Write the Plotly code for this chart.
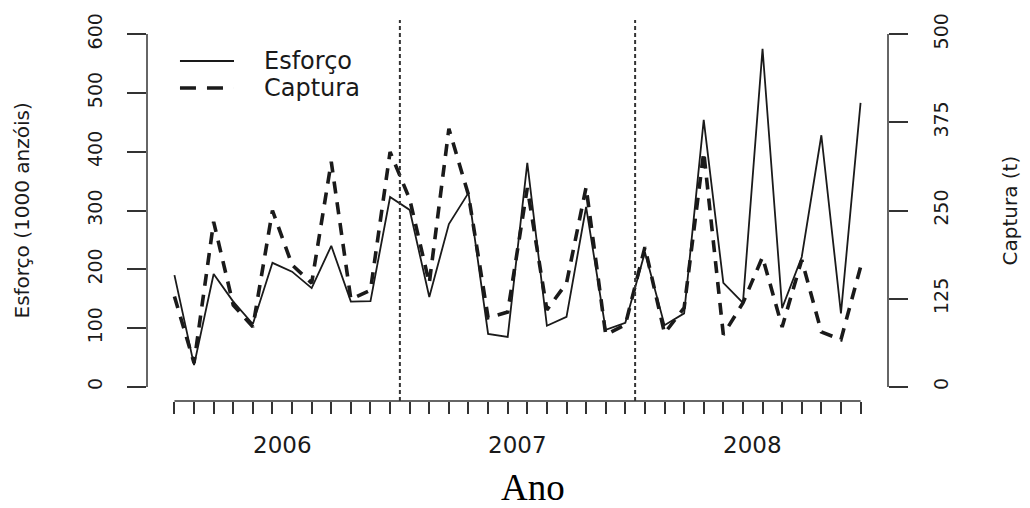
import plotly.graph_objects as go

# ---- data ----
months = list(range(1, 37))
esforco = [190, 37, 192, 145, 107, 211, 196, 168, 240, 145, 146, 323,
           301, 153, 277, 330, 90, 85, 381, 104, 119, 306, 97, 109,
           229, 105, 125, 454, 177, 143, 575, 134, 221, 428, 125, 483]
captura = [128, 34, 234, 116, 85, 250, 173, 147, 319, 124, 137, 333,
           266, 147, 366, 272, 98, 106, 282, 109, 147, 283, 74, 88,
           198, 76, 112, 333, 74, 119, 184, 85, 180, 78, 67, 170]
years = ["2006", "2007", "2008"]
year_centers = [6.5, 18.5, 30.5]
year_breaks = [12.5, 24.5]
left_ticks = [0, 100, 200, 300, 400, 500, 600]
right_ticks = [0, 125, 250, 375, 500]
series_names = ["Esforço", "Captura"]

INK = "#1a1a1a"
AX = "#333333"
SANS = "DejaVu Sans"
solid_style = dict(color=INK, width=1.8)
dash_style = dict(color=INK, width=3.6, dash="12px,9px")
legend_dash_style = dict(color=INK, width=3.6, dash="16px,11px")

fig = go.Figure()
fig.add_trace(go.Scatter(x=months, y=esforco, mode="lines", name=series_names[0],
                         line=solid_style, yaxis="y", showlegend=False))
fig.add_trace(go.Scatter(x=months, y=captura, mode="lines", name=series_names[1],
                         line=dash_style, yaxis="y2", showlegend=False))

shapes = []
# year separators (dotted)
for b in year_breaks:
    shapes.append(dict(type="line", xref="x", yref="paper", x0=b, x1=b, y0=0, y1=1,
                       line=dict(color=AX, width=2, dash="4px,3px")))
# R-style axis lines
shapes.append(dict(type="line", xref="paper", yref="y", x0=0, x1=0,
                   y0=left_ticks[0], y1=left_ticks[-1], line=dict(color=AX, width=1.5)))
shapes.append(dict(type="line", xref="paper", yref="y2", x0=1, x1=1,
                   y0=right_ticks[0], y1=right_ticks[-1], line=dict(color=AX, width=1.5)))
shapes.append(dict(type="line", xref="x", yref="paper", x0=months[0], x1=months[-1],
                   y0=0, y1=0, line=dict(color=AX, width=1.5)))

annotations = []
# legend (R style, long line samples)
leg_rows = [0.8924, 0.8215]
for name, ly, st in zip(series_names, leg_rows, [solid_style, legend_dash_style]):
    shapes.append(dict(type="line", xref="paper", yref="paper", x0=0.0445, x1=0.1174,
                       y0=ly, y1=ly, line=st))
    annotations.append(dict(text=name, x=0.1552, xref="paper", y=ly, yref="paper",
                            xanchor="left", yanchor="middle", showarrow=False,
                            font=dict(family=SANS, size=24, color=INK)))

for yl, xc in zip(years, year_centers):
    annotations.append(dict(text=yl, x=xc, xref="x", y=-0.1155, yref="paper",
                            yanchor="middle", xanchor="center", showarrow=False,
                            font=dict(family=SANS, size=23, color=INK)))
annotations.append(dict(text="Ano", x=0.521, xref="paper", y=-0.226, yref="paper",
                        yanchor="middle", xanchor="center", showarrow=False,
                        font=dict(family="Liberation Serif", size=37, color="#000")))
annotations.append(dict(text="Esforço (1000 anzóis)", x=-0.1687, xref="paper", y=0.5,
                        yref="paper", textangle=-90, xanchor="center", yanchor="middle",
                        showarrow=False, font=dict(family=SANS, size=20, color=INK)))
annotations.append(dict(text="Captura (t)", x=1.1646, xref="paper", y=0.5,
                        yref="paper", textangle=-90, xanchor="center", yanchor="middle",
                        showarrow=False, font=dict(family=SANS, size=20, color=INK)))

fig.update_layout(
    width=1030, height=508,
    margin=dict(l=147, r=142, t=20, b=107),
    paper_bgcolor="white", plot_bgcolor="white",
    shapes=shapes, annotations=annotations,
    showlegend=False,
    xaxis=dict(range=[-0.4, 37.4], tickvals=months, ticktext=[""] * len(months),
               ticks="outside", ticklen=12, tickwidth=1.5, tickcolor=AX,
               showline=False, showgrid=False, zeroline=False, fixedrange=True),
    yaxis=dict(range=[-24, 624], tickvals=left_ticks, ticks="outside", ticklen=19,
               tickwidth=1.5, tickcolor=AX, tickangle=-90, ticklabelstandoff=17,
               tickfont=dict(family=SANS, size=19, color=INK),
               showline=False, showgrid=False, zeroline=False),
    yaxis2=dict(range=[-20, 520], tickvals=right_ticks, overlaying="y", side="right",
                ticks="outside", ticklen=19, tickwidth=1.5, tickcolor=AX, tickangle=-90,
                ticklabelstandoff=17,
                tickfont=dict(family=SANS, size=19, color=INK),
                showline=False, showgrid=False, zeroline=False),
)

fig.write_html("out.html")
